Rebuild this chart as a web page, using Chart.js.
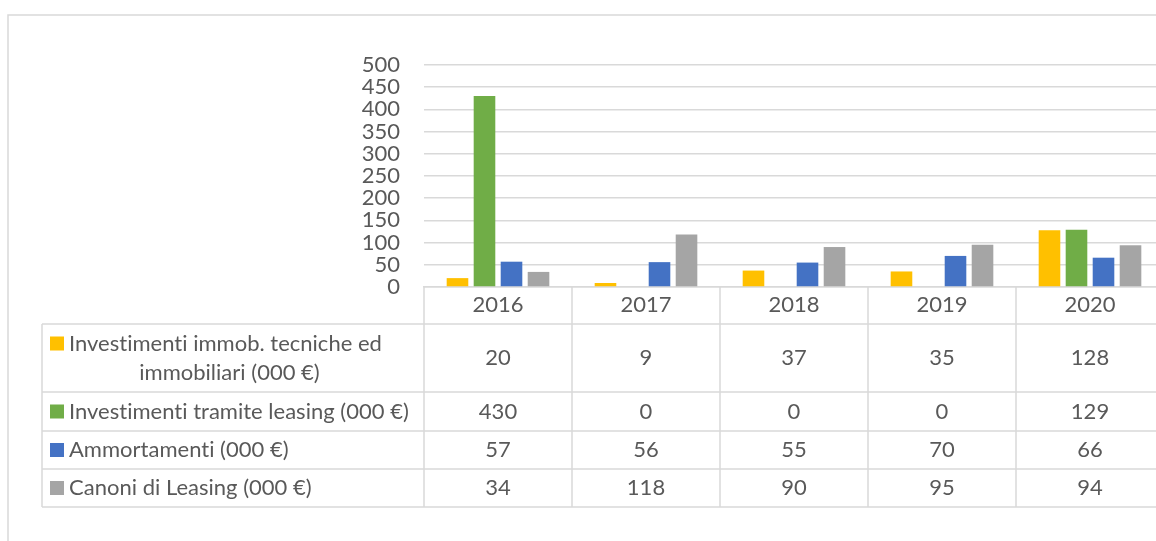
<!DOCTYPE html>
<html>
<head>
<meta charset="utf-8">
<script src="https://cdn.jsdelivr.net/npm/chart.js@4"></script>
<style>
  html, body { margin: 0; padding: 0; background: #fff; overflow: hidden; }
  #wrap { position: relative; width: 1180px; height: 541px; }
</style>
</head>
<body>
<div id="wrap"><canvas id="myChart"></canvas></div>
<script>
const years = ["2016", "2017", "2018", "2019", "2020"];
const seriesLabels = [
  ["Investimenti immob. tecniche ed", "immobiliari (000 €)"],
  ["Investimenti tramite leasing (000 €)"],
  ["Ammortamenti (000 €)"],
  ["Canoni di Leasing (000 €)"],
];
const investimentiImmob = [20, 9, 37, 35, 128];
const investimentiLeasing = [430, 0, 0, 0, 129];
const ammortamenti = [57, 56, 55, 70, 66];
const canoniLeasing = [34, 118, 90, 95, 94];
const seriesColors = ["#FFC000", "#70AD47", "#4472C4", "#A5A5A5"];
const yMin = 0;
const yMax = 500;
const yStep = 50;

const textColor = "#595959";
const lineColor = "#d9d9d9";
const fontFamily = "Lato";
const fontSize = 22;

Chart.defaults.font.family = fontFamily;
Chart.defaults.font.size = fontSize;
Chart.defaults.color = textColor;

const seriesData = [investimentiImmob, investimentiLeasing, ammortamenti, canoniLeasing];

// chart frame + data table under the plot
const dataTable = {
  id: "dataTable",
  beforeDraw(chart) {
    const ctx = chart.ctx;
    ctx.save();
    ctx.strokeStyle = lineColor;
    ctx.lineWidth = 1.5;
    ctx.strokeRect(8, 15, 2000, 2000);
    ctx.restore();
  },
  afterDraw(chart) {
    const { ctx, chartArea, scales } = chart;
    const x = scales.x;
    const colW = (chartArea.right - chartArea.left) / years.length;
    const tableLeft = 42;
    const headerH = 37;
    const rowHeights = [68, 39, 38, 38];

    const rowTops = [];
    let y = chartArea.bottom + headerH;
    rowHeights.forEach((h) => {
      rowTops.push(y);
      y += h;
    });
    const tableBottom = y;

    ctx.save();
    ctx.strokeStyle = lineColor;
    ctx.lineWidth = 1.5;

    // horizontal rules
    ctx.beginPath();
    rowTops.concat([tableBottom]).forEach((ry) => {
      ctx.moveTo(tableLeft, ry);
      ctx.lineTo(chartArea.right, ry);
    });
    // vertical rules
    ctx.moveTo(tableLeft, rowTops[0]);
    ctx.lineTo(tableLeft, tableBottom);
    for (let i = 0; i <= years.length; i++) {
      const cx = x.getPixelForValue(i) - colW / 2;
      ctx.moveTo(cx, chartArea.bottom);
      ctx.lineTo(cx, tableBottom);
    }
    ctx.stroke();

    ctx.font = fontSize + "px " + fontFamily;
    ctx.letterSpacing = "0.01px"; // keeps "ti" from turning into a ligature
    ctx.fillStyle = textColor;
    ctx.textBaseline = "middle";

    seriesData.forEach((vals, r) => {
      const top = rowTops[r];
      const mid = top + rowHeights[r] / 2;
      const lines = seriesLabels[r];

      // legend key
      const keyY = lines.length > 1 ? mid - 14.5 : mid;
      ctx.fillStyle = seriesColors[r];
      ctx.fillRect(50, keyY - 7, 14, 14);

      ctx.fillStyle = textColor;
      if (lines.length > 1) {
        ctx.textAlign = "left";
        ctx.fillText(lines[0], 69, mid - 14.5);
        ctx.textAlign = "center";
        ctx.fillText(lines[1], 229.5, mid + 14.5);
      } else {
        ctx.textAlign = "left";
        ctx.fillText(lines[0], 69, mid);
      }

      ctx.textAlign = "center";
      vals.forEach((v, i) => {
        ctx.fillText(String(v), x.getPixelForValue(i), mid);
      });
    });
    ctx.restore();
  },
};

const ctx = document.getElementById("myChart").getContext("2d");

new Chart(ctx, {
  type: "bar",
  data: {
    labels: years,
    datasets: seriesData.map((vals, i) => ({
      label: seriesLabels[i].join(" "),
      data: vals,
      backgroundColor: seriesColors[i],
      borderWidth: 0,
      categoryPercentage: 0.73,
      barPercentage: 0.8,
    })),
  },
  options: {
    responsive: true,
    maintainAspectRatio: false,
    animation: false,
    layout: { padding: { top: 65, right: 16, bottom: 0, left: 0 } },
    plugins: {
      legend: { display: false },
      tooltip: { enabled: false },
    },
    scales: {
      x: {
        grid: { display: false, drawTicks: false },
        border: { display: true, color: lineColor, width: 1.5 },
        ticks: { padding: 5, color: textColor },
        afterFit: (scale) => {
          scale.height = 254;
        },
      },
      y: {
        min: yMin,
        max: yMax,
        grid: { color: lineColor, lineWidth: 1.5, drawTicks: false },
        border: { display: false },
        ticks: { stepSize: yStep, autoSkip: false, padding: 24, color: textColor },
        afterFit: (scale) => {
          scale.width = 424;
        },
      },
    },
  },
  plugins: [dataTable],
});
</script>
</body>
</html>
